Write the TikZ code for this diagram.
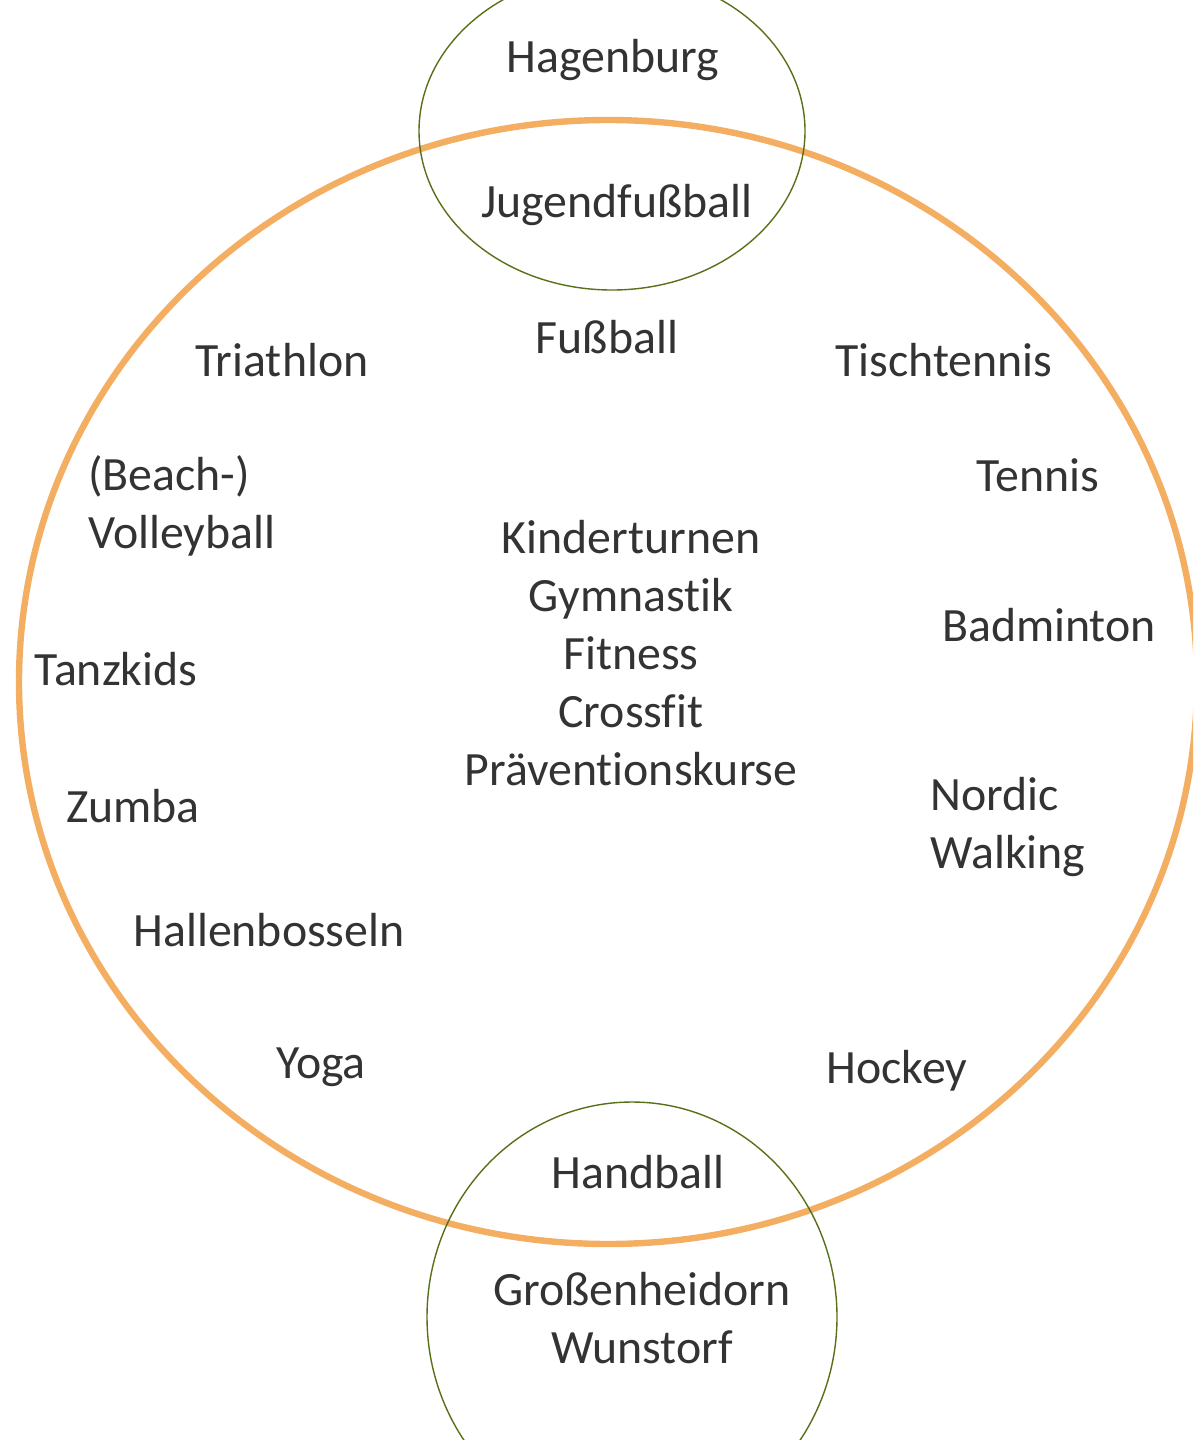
\documentclass[tikz,border=0pt]{standalone}
\usepackage{fontspec}
\setmainfont[Ligatures=NoCommon]{Carlito}
\definecolor{ringorange}{RGB}{244,174,98}
\definecolor{townolive}{RGB}{88,112,24}
\definecolor{labelgray}{RGB}{51,51,51}
\begin{document}
\begin{tikzpicture}[x=0.025cm,y=-0.025cm]
    \tikzset{
        sport/.style={inner sep=0, text=labelgray, anchor=base,
            font=\fontsize{34}{41.2}\selectfont, align=center},
        sportleft/.style={sport, anchor=base west, align=left},
        club/.style={draw=ringorange, line width=1.6mm},
        town/.style={draw=townolive, line width=0.35mm}
    }
    \useasboundingbox (0,0) rectangle (1193,1440);
    \clip (0,0) rectangle (1193,1440);

    % circles
    \draw[club] (608,682) ellipse (589 and 562);
    \draw[town] (612,131) ellipse (193 and 159);
    \draw[town] (632,1317) ellipse (205 and 215);

    % towns (multi-line nodes sit on their last line)
    \draw node[sport] (hag) at (613,72) {Hagenburg};
    \draw node[sport] (gro) at (642,1363) {Großenheidorn\\Wunstorf};

    % shared sports
    \draw node[sport] (jfb) at (617,217) {Jugendfußball};
    \draw node[sport] (hb) at (638,1188) {Handball};

    % sports of the club
    \draw node[sport] (fb) at (607,353) {Fußball};
    \draw node[sport] (tri) at (282,376) {Triathlon};
    \draw node[sport] (tt) at (944,376) {Tischtennis};
    \draw node[sport] (ten) at (1038,491) {Tennis};
    \draw node[sportleft] (vb) at (88,548) {(Beach-)\\Volleyball};
    \draw node[sport] (mid) at (631,785) {Kinderturnen\\Gymnastik\\Fitness\\Crossfit\\Präventionskurse};
    \draw node[sport] (bad) at (1049,641) {Badminton};
    \draw node[sport] (tan) at (116,685) {Tanzkids};
    \draw node[sport] (zum) at (133,822) {Zumba};
    \draw node[sportleft] (nw) at (930,868) {Nordic\\Walking};
    \draw node[sport] (hbo) at (269,946) {Hallenbosseln};
    \draw node[sport] (yog) at (321,1078) {Yoga};
    \draw node[sport] (hoc) at (897,1083) {Hockey};
\end{tikzpicture}
\end{document}
